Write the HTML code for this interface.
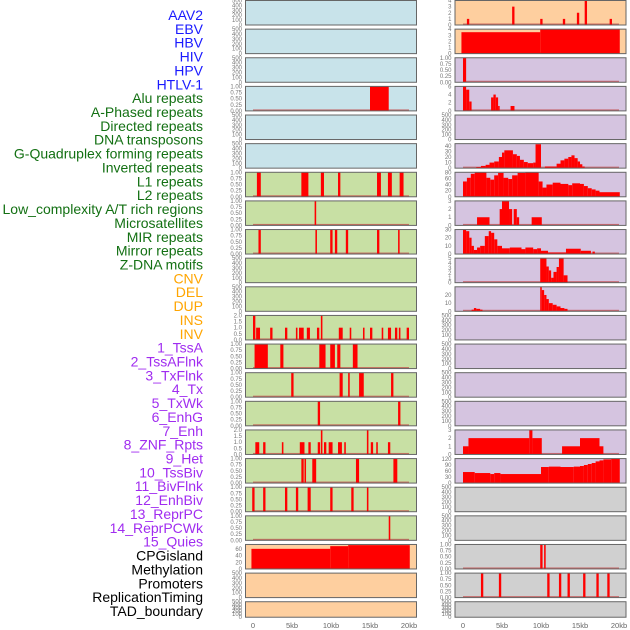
<!DOCTYPE html>
<html><head><meta charset="utf-8"><style>
html,body{margin:0;padding:0;background:#fff;}
svg{display:block;font-family:"Liberation Sans",sans-serif;}
</style></head><body>
<svg id="chart" width="630" height="630" viewBox="0 0 630 630">
<g id="labels"></g>
<g id="panels"></g>
<g id="xaxis"></g>
</svg>
<script>
const labelNames = ["AAV2","EBV","HBV","HIV","HPV","HTLV-1","Alu repeats","A-Phased repeats","Directed repeats","DNA transposons","G-Quadruplex forming repeats","Inverted repeats","L1 repeats","L2 repeats","Low_complexity A/T rich regions","Microsatellites","MIR repeats","Mirror repeats","Z-DNA motifs","CNV","DEL","DUP","INS","INV","1_TssA","2_TssAFlnk","3_TxFlnk","4_Tx","5_TxWk","6_EnhG","7_Enh","8_ZNF_Rpts","9_Het","10_TssBiv","11_BivFlnk","12_EnhBiv","13_ReprPC","14_ReprPCWk","15_Quies","CPGisland","Methylation","Promoters","ReplicationTiming","TAD_boundary"];
const labelGroups = [6,13,5,15,5];
const groupColors = ["#1a1aff","#137013","#ffa500","#a02cf0","#000000"];
const xTickValues = [0,5,10,15,20];
const xTickLabels = ["0","5kb","10kb","15kb","20kb"];
const leftBg = ["#c8e3ea","#c8e3ea","#c8e3ea","#c8e3ea","#c8e3ea","#c8e3ea","#c8e0a4","#c8e0a4","#c8e0a4","#c8e0a4","#c8e0a4","#c8e0a4","#c8e0a4","#c8e0a4","#c8e0a4","#c8e0a4","#c8e0a4","#c8e0a4","#c8e0a4","#fecf9f","#fecf9f","#fecf9f"];
const rightBg = ["#fecf9f","#fecf9f","#d5c4e0","#d5c4e0","#d5c4e0","#d5c4e0","#d5c4e0","#d5c4e0","#d5c4e0","#d5c4e0","#d5c4e0","#d5c4e0","#d5c4e0","#d5c4e0","#d5c4e0","#d5c4e0","#d5c4e0","#d0d0d0","#d0d0d0","#d0d0d0","#d0d0d0","#d0d0d0"];
// y-axis max per panel
const leftYMax = [500,500,500,1,500,500,1,1,1,500,500,2,1,1,1,2,1,1,1,73,500,500];
const rightYMax = [4,4,1,6,500,44,80,3,30,5,30,500,500,500,500,3,122,500,500,1,1,500];
// tick labels per panel type
const ticksEmpty = ["0","100","200","300","400","500"];
const ticksOne = ["0.00","0.25","0.50","0.75","1.00"];
const ticksTwo = ["0.0","0.5","1.0","1.5","2.0"];
const leftTickSet = ["e","e","e","1","e","e","1","1","1","e","e","2","1","1","1","2","1","1","1","cpg","e","e"];
const rightTickSet = ["4","4","1","6","e","40","80","3","30","5","20","e","e","e","e","3","120","e","e","1","1","e"];
const tickTables = {
 "e":[0,100,200,300,400,500], "1":[0,0.25,0.5,0.75,1], "2":[0,0.5,1,1.5,2],
 "4":[0,1,2,3,4], "6":[0,2,4,6], "40":[0,10,20,30,40], "80":[0,20,40,60,80],
 "3":[0,1,2,3], "30":[0,10,20,30], "5":[0,1,2,3,4,5], "20":[0,10,20],
 "120":[0,30,60,90,120], "cpg":[0,20,40,60]
};
// segments [start_kb, end_kb, value]
const L3 = [[15.0,17.4,1]];
const L6 = [[0.5,1.0,1],[6.2,7.1,1],[8.7,9.1,1],[10.9,11.2,1],[15.9,16.4,1],[17.3,17.8,1],[18.8,19.3,1]];
const L7 = [[7.9,8.1,1]];
const L8 = [[0.7,1.0,1],[8.0,8.2,1],[9.9,10.2,1],[10.5,10.8,1],[11.9,12.2,1],[15.9,16.2,1],[18.6,18.8,1]];
const L11 = [[0.0,0.3,2],[0.4,0.9,1],[2.2,2.5,1],[4.1,4.4,1],[5.5,5.7,1],[5.9,6.5,1],[6.9,7.3,1],[8.2,8.5,1],[8.7,8.9,2],[11.0,11.5,1],[12.4,12.6,1],[14.1,14.3,1],[15.0,15.3,1],[16.5,16.7,1],[17.3,17.7,1],[18.2,18.5,1],[18.7,18.9,1],[19.7,20.0,1]];
const L12 = [[0.2,1.9,1],[3.5,3.9,1],[8.5,9.3,1],[9.9,10.5,1],[10.8,11.2,1],[12.8,13.4,1]];
const L13 = [[4.9,5.2,1],[11.1,11.5,1],[12.2,12.4,1],[13.6,14.2,1],[17.7,18.0,1]];
const L14 = [[8.3,8.6,1],[18.6,18.9,1]];
const L15 = [[0.3,0.8,1],[1.3,1.6,1],[3.7,3.9,1],[6.0,6.6,1],[7.1,7.4,1],[8.3,8.6,1],[8.7,8.9,2],[9.1,9.4,1],[9.7,10.2,1],[10.9,11.4,1],[11.7,11.9,1],[14.6,14.8,2],[15.1,15.4,1],[15.8,16.0,1],[17.3,17.6,1]];
const L16 = [[6.2,6.5,1],[6.6,6.8,1],[7.6,8.1,1],[13.2,13.6,1],[18.0,18.5,1]];
const L17 = [[-0.1,0.2,1],[1.3,1.6,1],[4.1,4.4,1],[5.5,5.8,1],[7.0,7.4,1],[9.9,10.2,1],[12.6,12.9,1],[14.6,14.8,1]];
const L18 = [[17.4,17.6,1]];
const L19 = [[-0.2,9.9,60],[9.9,12.2,68],[12.2,20.1,71]];
const R0 = [[0.5,0.8,1],[6.3,6.6,3],[9.9,10.2,1],[12.8,13.1,1],[14.6,14.9,2],[15.6,15.9,4],[18.8,19.1,1]];
const R1 = [[-0.2,9.9,3.5],[9.9,20.1,4]];
const R2 = [[0.0,0.4,1]];
const R3 = [[0.0,0.4,6],[0.4,0.8,5.2],[0.8,1.1,2.3],[3.6,3.9,3.3],[3.9,4.2,4],[4.2,4.5,3.3],[4.5,4.7,1.2],[6.1,6.6,1.2]];
const R5 = [[1.7,2.3,2],[2.3,2.9,4],[2.9,3.4,6],[3.4,4.0,10],[4.0,4.6,12],[4.6,5.0,20],[5.0,5.3,28],[5.3,6.4,32],[6.4,6.9,25],[6.9,7.3,22],[7.3,7.8,15],[7.8,8.3,11],[8.3,9.0,9],[9.0,9.3,10],[9.3,10.0,43],[10.5,12.0,3],[12.0,12.5,8],[12.5,13.0,14],[13.0,13.5,17],[13.5,13.9,20],[13.9,14.3,23],[14.3,14.7,18],[14.7,15.0,12],[15.0,15.3,7],[15.3,15.6,3]];
const R6 = [[0,0.5,50],[0.5,1,62],[1,1.5,75],[1.5,3,80],[3,3.5,62],[3.5,4,56],[4,4.5,70],[4.5,5.2,78],[5.2,5.8,62],[5.8,6.3,58],[6.3,7,70],[7,8,78],[8,9.7,80],[9.7,10.2,50],[10.2,10.7,30],[10.7,11.5,40],[11.5,12.5,46],[12.5,13.5,42],[13.5,14,38],[14,15,44],[15,15.5,42],[15.5,16,35],[16,16.5,28],[16.5,17,24],[17,17.5,20],[17.5,20.1,15]];
const R7 = [[1.8,3.4,1],[4.7,5.0,2],[5.0,5.9,3],[5.9,6.3,2],[6.5,6.9,2],[6.9,7.2,1],[8.8,10.1,1]];
const R8 = [[0,0.4,30],[0.4,0.8,28],[0.8,1.1,20],[1.1,1.4,10],[1.4,1.8,5],[1.8,2.2,8],[2.2,2.8,10],[2.8,3.3,22],[3.3,3.6,28],[3.6,4,26],[4,4.4,18],[4.4,5,10],[5,6,7],[6,7.5,8],[7.5,8,6],[8,9,8],[9,9.5,6],[9.5,10,7],[10,10.9,4],[10.9,13.2,2],[13.2,15.1,6.5],[15.1,16.4,4],[16.6,16.9,3]];
const R9 = [[9.9,10.7,5],[10.7,11.0,3.3],[11.0,11.3,2.5],[11.3,11.6,1],[11.6,12.0,2.2],[12.0,12.3,3.2],[12.3,12.9,5],[12.9,13.4,1.5]];
const R10 = [[1.1,1.4,2],[1.4,1.7,4],[1.7,2.2,3],[2.2,2.5,2],[9.9,10.1,30],[10.1,10.4,26],[10.4,10.7,20],[10.7,11.0,15],[11.0,11.5,10],[11.5,12.0,8],[12.0,12.5,6],[12.5,13.0,4],[13.0,13.4,3]];
const R15 = [[0,0.7,1],[0.7,8.5,2],[8.5,8.9,3],[8.9,10.1,2],[12.7,15.0,1],[15.0,17.5,2],[17.5,18.0,1]];
const R16 = [[0,1.5,55],[1.5,3.5,50],[3.5,4.0,45],[4.0,4.8,50],[4.8,10.0,45],[10.0,11.0,80],[11.0,12.5,82],[12.5,14.2,80],[14.2,15,82],[15,15.5,85],[15.5,16,90],[16,16.5,95],[16.5,17,100],[17,17.5,108],[17.5,18,113],[18,19,118],[19,20.1,122]];
const R19 = [[9.9,10.2,1],[10.4,10.6,1]];
const R20 = [[2.3,2.6,1],[4.6,4.9,1],[10.8,11.1,1],[12.3,12.6,1],[13.4,13.7,1],[15.4,15.7,1],[17.1,17.4,1],[18.5,18.8,1]];
const leftSegs = [null,null,null,L3,null,null,L6,L7,L8,null,null,L11,L12,L13,L14,L15,L16,L17,L18,L19,null,null];
const rightSegs = [R0,R1,R2,R3,null,R5,R6,R7,R8,R9,R10,null,null,null,null,R15,R16,null,null,R19,R20,null];

const NS="http://www.w3.org/2000/svg";
function mk(tag, attrs, parent){const e=document.createElementNS(NS,tag);for(const k in attrs)e.setAttribute(k,attrs[k]);parent.appendChild(e);return e;}
const ROWS=22, ROWH=28.63;
const cols=[{x0:245.5,x1:416.5,ox:253},{x0:455,x1:626,ox:463}];
const KBPX=7.8;
function xScale(col,kb){return cols[col].ox+kb*KBPX;}
function rowTop(i){return i*ROWH+0.5;}
function rowH(i){return i===ROWS-1?15.5:24.5;}
function yScale(i,ymax,v){const t=rowTop(i),h=rowH(i);return t+h-(v/ymax)*h;}
function fmt(set,v){if(set==="1")return v.toFixed(2);if(set==="2")return v.toFixed(1);return String(v);}

// labels
const lg=document.getElementById('labels');
let idx=0;
labelGroups.forEach((n,g)=>{for(let k=0;k<n;k++){const name=labelNames[idx];
 const t=mk('text',{x:203,y:(20+idx*13.86).toFixed(1),'text-anchor':'end','font-size':'14',fill:groupColors[g]},lg);
 t.textContent=name;
 
 
 idx++;}});

const pg=document.getElementById('panels');
for(let i=0;i<ROWS;i++){
 for(let c=0;c<2;c++){
  const g=mk('g',{},pg);
  
  
  const bg=c===0?leftBg[i]:rightBg[i];
  const ymax=c===0?leftYMax[i]:rightYMax[i];
  const segs=c===0?leftSegs[i]:rightSegs[i];
  const tset=c===0?leftTickSet[i]:rightTickSet[i];
  const t=rowTop(i),h=rowH(i);
  const bgr=mk('rect',{x:cols[c].x0,y:t,width:cols[c].x1-cols[c].x0,height:h,fill:bg},g);
  
  
  if(segs){
   const base=mk('rect',{x:xScale(c,0),y:t+h-1.5,width:20*KBPX,height:1.5,fill:'#c04040',opacity:'0.7'},g);
   
   
   segs.forEach(s=>{
    const x1=xScale(c,s[0]),x2=xScale(c,s[1]);const y=yScale(i,ymax,s[2]);
    const r=mk('rect',{x:x1.toFixed(2),y:y.toFixed(2),width:Math.max(1.2,x2-x1).toFixed(2),height:(t+h-y).toFixed(2),fill:'#ff0000'},g);
    
    
   });
  }
  const br=mk('rect',{x:cols[c].x0,y:t,width:cols[c].x1-cols[c].x0,height:h,fill:'none',stroke:'#666','stroke-width':'1'},g);
  
  
  const tg=mk('g',{},g);
  
  
  tickTables[tset].forEach(v=>{
   const y=yScale(i,ymax,v);
   const tx=mk('text',{x:cols[c].x0-3.5,y:(y+2).toFixed(1),'text-anchor':'end','font-size':'6',fill:'#777'},tg);
   tx.textContent=fmt(tset,v);
  });
 }
}
const xg=document.getElementById('xaxis');
for(let c=0;c<2;c++){
 xTickValues.forEach((v,k)=>{
  const tx=mk('text',{x:xScale(c,v),y:628,'text-anchor':'middle','font-size':'7.5',fill:'#666'},xg);
  tx.textContent=xTickLabels[k];
  
  
 });
}
</script>
</body></html>
